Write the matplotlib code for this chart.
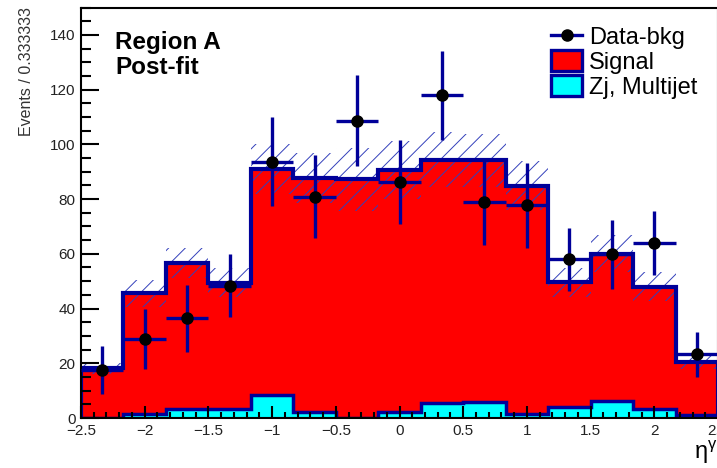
import numpy as np
import matplotlib
matplotlib.use("Agg")
import matplotlib.pyplot as plt
from matplotlib.lines import Line2D
from matplotlib.patches import Patch
from matplotlib.ticker import MultipleLocator, FuncFormatter

plt.rcParams['font.family'] = ['Liberation Sans', 'DejaVu Sans']
plt.rcParams['mathtext.fontset'] = 'dejavusans'
plt.rcParams['hatch.linewidth'] = 0.7

# bins in eta (width 1/3)
bin_edges = [-2.5, -13/6, -11/6, -1.5, -7/6, -5/6, -0.5, -1/6,
             1/6, 0.5, 5/6, 7/6, 1.5, 11/6, 13/6, 2.5]

# stacked templates (post-fit)
bkg_zj_multijet = [0.0, 1.5, 3.2, 3.2, 8.4, 2.1, 0.0, 2.3,
                   5.4, 6.0, 1.3, 4.1, 6.3, 3.2, 1.1]
signal = [18.2, 44.0, 53.3, 46.3, 82.6, 85.5, 87.2, 88.3,
          89.0, 88.1, 83.6, 45.5, 53.8, 44.8, 19.3]
# post-fit uncertainty on the total (hatched band)
total_unc = [2.0, 5.0, 5.5, 5.2, 9.0, 9.2, 11.5, 10.5,
             10.0, 9.7, 9.0, 5.3, 6.7, 5.3, 2.4]

# data minus background
data_y = [17.5, 28.8, 36.4, 48.4, 93.7, 80.9, 108.7, 86.3,
          117.9, 79.1, 77.8, 58.0, 59.9, 63.8, 23.3]
data_err = [8.7, 11.0, 12.2, 11.6, 16.3, 15.2, 16.7, 15.3,
            16.3, 15.8, 15.5, 11.6, 12.6, 11.7, 8.2]

navy = '#000099'

edges = np.array(bin_edges)
centers = 0.5 * (edges[1:] + edges[:-1])
halfw = 0.5 * (edges[1:] - edges[:-1])
bkg = np.array(bkg_zj_multijet)
total = bkg + np.array(signal)
unc = np.array(total_unc)

fig = plt.figure(figsize=(7.17, 4.68), dpi=100)
ax = fig.add_axes([81/717, 50/468, 637/717, 410.5/468])

# signal stacked on top of background -> total
ax.stairs(total, edges, baseline=0, fill=True, color='red', lw=0, zorder=1)
ax.stairs(total + unc, edges, baseline=total - unc, fill=True,
          facecolor='none', edgecolor='#3340bb', hatch='//', lw=0, zorder=1.2)
ax.stairs(total, edges, baseline=0, color=navy, lw=3, zorder=1.5)
ax.stairs(bkg, edges, baseline=0, fill=True, facecolor='cyan',
          edgecolor=navy, lw=2.5, zorder=1.6)

ax.errorbar(centers, data_y, yerr=data_err, xerr=halfw, fmt='o',
            color=navy, mfc='black', mec='black', ms=8, elinewidth=2.4,
            capsize=0, zorder=4)

ax.set_xlim(-2.5, 2.5)
ax.set_ylim(0, 150)
ax.set_axisbelow(False)
ax.xaxis.set_major_locator(MultipleLocator(0.5))
ax.xaxis.set_minor_locator(MultipleLocator(0.1))
ax.yaxis.set_major_locator(MultipleLocator(20))
ax.yaxis.set_minor_locator(MultipleLocator(5))
ax.xaxis.set_major_formatter(FuncFormatter(lambda v, p: ('%g' % v).replace('-', '\u2212')))
ax.tick_params(which='both', direction='in', width=1.5, colors='black',
               labelcolor='#222222', labelsize=11)
ax.tick_params(axis='y', which='major', length=13, pad=4)
ax.tick_params(axis='y', which='minor', length=7)
ax.tick_params(axis='x', which='major', length=8.5, pad=4)
ax.tick_params(axis='x', which='minor', length=4)
for s in ax.spines.values():
    s.set_linewidth(1.5)

ax.set_ylabel('Events / 0.333333', fontsize=11.5, color='#333333', loc='top')
ax.yaxis.set_label_coords(-0.085, 1.0)
ax.yaxis.label.set_va('center')
ax.set_xlabel(r'$\mathregular{\eta^{\gamma}}$', fontsize=17, loc='right')
ax.xaxis.set_label_coords(1.0, -0.05)
ax.xaxis.label.set_va('top')

fig.text(115/717, 1 - 49/468, 'Region A', fontsize=17.5, fontweight='bold')
fig.text(115/717, 1 - 74/468, 'Post-fit', fontsize=17.5, fontweight='bold')

handles = [
    Line2D([], [], color=navy, lw=2.4, marker='o', mfc='black', mec='black', ms=8),
    Patch(facecolor='red', edgecolor=navy, lw=2.4),
    Patch(facecolor='cyan', edgecolor=navy, lw=2.4),
]
ax.legend(handles, ['Data-bkg', 'Signal', 'Zj, Multijet'], loc='upper left',
          bbox_to_anchor=(0.72, 0.985), frameon=False, fontsize=17,
          borderpad=0, handlelength=1.3, handleheight=1.0,
          handletextpad=0.3, labelspacing=0.05)

fig.savefig('out.png', dpi=100)
